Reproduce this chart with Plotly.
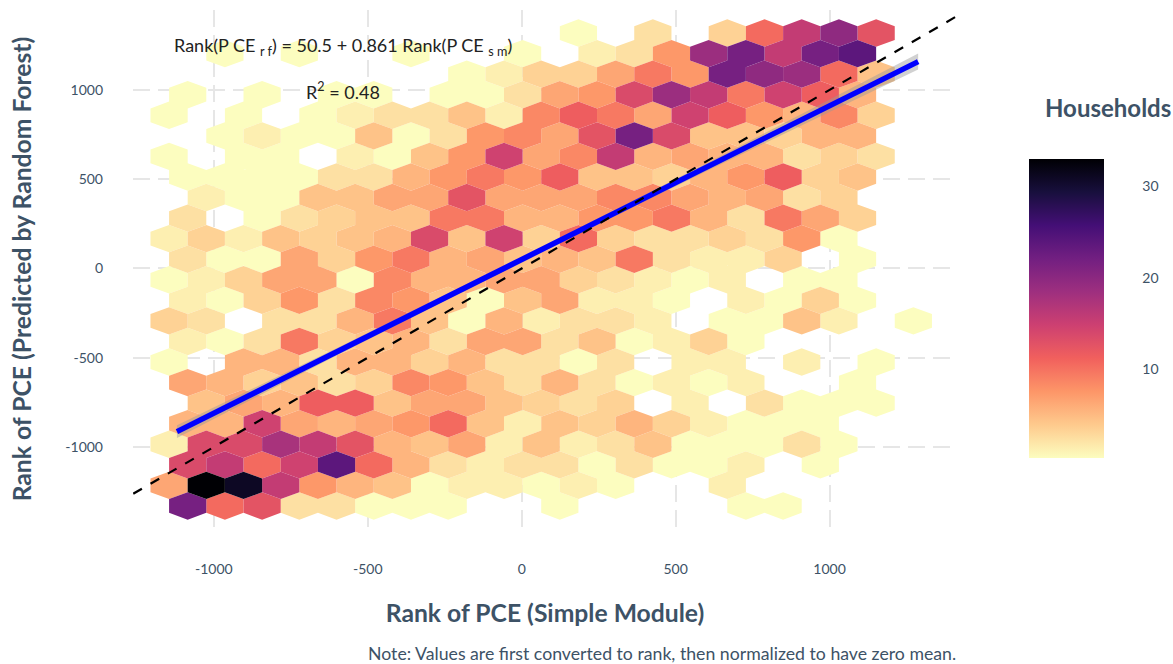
import plotly.graph_objects as go
from plotly.colors import sample_colorscale, sequential

# households per hexagon, one list per row from the top, 0 = empty
counts_by_row = [
    [0,0,0,0,0,0,0,0,0,0,0,1,0,3,0,4,11,16,20,13],
    [0,1,0,1,0,0,1,0,0,1,0,2,3,8,19,22,16,22,24],
    [0,0,0,0,0,0,0,0,1,2,4,4,7,10,8,22,20,19,11,5],
    [1,0,1,0,1,1,0,1,1,3,7,8,14,19,16,10,15,12,6],
    [1,0,1,0,1,2,3,3,5,2,9,12,10,7,15,12,8,6,9,4],
    [0,1,2,1,1,5,1,3,8,9,7,13,22,14,5,5,4,6,6],
    [1,0,1,1,0,2,1,5,8,15,7,9,16,6,7,6,6,3,4,3],
    [1,1,1,1,3,3,6,8,10,8,12,5,5,4,6,8,12,4,5],
    [0,2,1,1,5,5,7,7,13,7,7,7,9,9,7,6,7,3,4],
    [3,0,1,3,4,5,5,10,10,6,6,8,8,10,6,3,10,7,4],
    [2,4,2,5,4,5,6,14,5,15,4,11,4,3,3,4,3,8,1],
    [3,1,1,7,4,8,10,6,7,5,6,5,10,3,2,2,4,0,1],
    [1,2,4,7,7,1,9,6,6,7,7,4,3,2,1,2,0,1,1],
    [2,1,4,8,3,9,8,5,1,5,7,2,2,1,0,2,1,4,1],
    [4,3,0,3,3,6,10,5,1,6,2,3,3,2,0,1,1,5,2,0,1],
    [2,1,3,10,4,5,6,3,7,7,3,5,1,2,4,1],
    [1,0,6,6,3,6,6,4,6,3,3,1,3,0,2,2,0,2,0,1],
    [7,6,4,5,3,4,9,8,5,3,6,3,1,2,1,2,0,0,1],
    [0,5,7,6,12,12,5,7,7,5,4,3,4,0,2,0,3,1,1,1],
    [6,6,15,7,6,7,8,11,5,2,5,4,6,4,2,1,1,1],
    [2,14,14,18,16,13,6,5,7,2,5,2,3,5,1,1,1,3,1],
    [14,16,11,15,24,11,6,3,2,3,3,1,3,1,1,2,0,1],
    [7,33,31,16,8,6,5,1,2,2,1,2,1,0,0,2],
    [22,11,13,3,3,1,1,1,0,0,1,0,0,0,0,1,1],
]

# hex grid in data units
hex_x0 = -1145.6
hex_dx = 120.9
hex_y0 = 1319.0
hex_dy = 115.2

# regression line and its confidence band
fit_x = [-1120, -600, 0, 600, 1288]
fit_y = [-914, -466, 50, 567, 1159]
fit_lo = [-950, -486, 36, 545, 1114]
fit_hi = [-878, -446, 64, 589, 1204]

ref_x = [-1262, 1414]
ref_y = [-1262, 1414]

x_ticks = [-1000, -500, 0, 500, 1000]
y_ticks = [-1000, -500, 0, 500, 1000]
tick_text = ["-1000", "-500", "0", "500", "1000"]
bar_ticks = [10, 20, 30]

hex_cmin, cmin, cmax = 1, 0.3, 33
magma = sequential.Magma_r
ink = "#3d5266"
font = "Lato"

fig = go.Figure()

R = hex_dy / 1.5
by_count = {}
for r, row in enumerate(counts_by_row):
    for i, n in enumerate(row):
        if n == 0:
            continue
        cx = hex_x0 + i * hex_dx + (hex_dx / 2 if r % 2 else 0)
        cy = hex_y0 - r * hex_dy
        xs, ys = by_count.setdefault(n, ([], []))
        xs += [cx, cx + hex_dx / 2, cx + hex_dx / 2, cx, cx - hex_dx / 2, cx - hex_dx / 2, cx, None]
        ys += [cy + R, cy + R / 2, cy - R / 2, cy - R, cy - R / 2, cy + R / 2, cy + R, None]

for n, (xs, ys) in sorted(by_count.items()):
    colour = sample_colorscale(magma, (n - hex_cmin) / (cmax - hex_cmin))[0]
    fig.add_trace(go.Scatter(x=xs, y=ys, mode="lines", fill="toself", fillcolor=colour,
                             line=dict(width=0), hoverinfo="skip", showlegend=False))

# band
fig.add_trace(go.Scatter(x=fit_x + fit_x[::-1], y=fit_hi + fit_lo[::-1], mode="lines", fill="toself",
                         fillcolor="rgba(153,153,153,0.45)", line=dict(width=0), showlegend=False))
fig.add_trace(go.Scatter(x=fit_x, y=fit_y, mode="lines", line=dict(color="#0000ff", width=5.5), showlegend=False))
fig.add_trace(go.Scatter(x=ref_x, y=ref_y, mode="lines",
                         line=dict(color="black", width=2.2, dash="10px,10px"), showlegend=False))

# plot area size in pixels, used to place the colour bar parts
plot_w, plot_h = 824, 518
bar_left = 896 / plot_w
bar_mid = 219.5 / plot_h
bar_h = 299

# colour bar only
fig.add_trace(go.Scatter(
    x=[None], y=[None], mode="markers", showlegend=False,
    marker=dict(color=[cmin, cmax], cmin=cmin, cmax=cmax, colorscale=magma, showscale=True,
                colorbar=dict(
                    thickness=75, len=bar_h, lenmode="pixels", x=bar_left, xanchor="left",
                    y=bar_mid, yanchor="middle", xpad=0, ypad=0, outlinewidth=0,
                    tickvals=bar_ticks, ticks="outside", ticklen=36, tickcolor="rgba(0,0,0,0)",
                    tickfont=dict(family=font, size=14, color=ink),
                )),
))

# white ticks inside the bar
bar_bottom = bar_mid - bar_h / plot_h / 2
for v in bar_ticks:
    yp = bar_bottom + (v - cmin) / (cmax - cmin) * bar_h / plot_h
    for a, b in [(0, 15), (60, 75)]:
        fig.add_shape(type="line", xref="paper", yref="paper",
                      x0=bar_left + a / plot_w, x1=bar_left + b / plot_w, y0=yp, y1=yp,
                      line=dict(color="white", width=1), layer="above")

fig.add_annotation(text="Rank(P CE <sub>r f</sub>) = 50.5 + 0.861 Rank(P CE <sub>s m</sub>)",
                   x=-580, y=1245, xref="x", yref="y", showarrow=False,
                   font=dict(family=font, size=18, color="#222222"))
fig.add_annotation(text="R<sup>2</sup> = 0.48", x=-580, y=995, xref="x", yref="y", showarrow=False,
                   font=dict(family=font, size=18, color="#222222"))
fig.add_annotation(text="<b>Households</b>", xref="paper", yref="paper", x=975 / plot_w, y=420 / plot_h,
                   xanchor="center", yanchor="middle", showarrow=False,
                   font=dict(family=font, size=24, color=ink))
fig.add_annotation(text="Note: Values are first converted to rank, then normalized to have zero mean.",
                   xref="paper", yref="paper", x=825 / plot_w, y=-125 / plot_h,
                   xanchor="right", yanchor="middle", showarrow=False,
                   font=dict(family=font, size=17.7, color=ink))

grid = dict(showgrid=True, gridcolor="#e6e6e6", gridwidth=2, griddash="17px,8px",
            zeroline=False, showline=False, ticks="", tickfont=dict(family=font, size=14, color=ink))
fig.update_xaxes(range=[-1262.8, 1414.2], tickvals=x_ticks, ticktext=tick_text, ticklabelstandoff=31,
                 title=dict(text="<b>Rank of PCE (Simple Module)</b>", standoff=28,
                            font=dict(family=font, size=24.7, color=ink)), **grid)
fig.update_yaxes(range=[-1454, 1448], tickvals=y_ticks, ticktext=tick_text, ticklabelstandoff=29,
                 title=dict(text="<b>Rank of PCE (Predicted by Random Forest)</b>", standoff=26,
                            font=dict(family=font, size=24.7, color=ink)), **grid)
fig.update_layout(width=1173, height=664, margin=dict(l=133, r=216, t=10, b=136),
                  plot_bgcolor="white", paper_bgcolor="white", showlegend=False)

fig.write_html("out.html", config=dict(displayModeBar=False),
               post_script="document.body.style.margin='0';")
